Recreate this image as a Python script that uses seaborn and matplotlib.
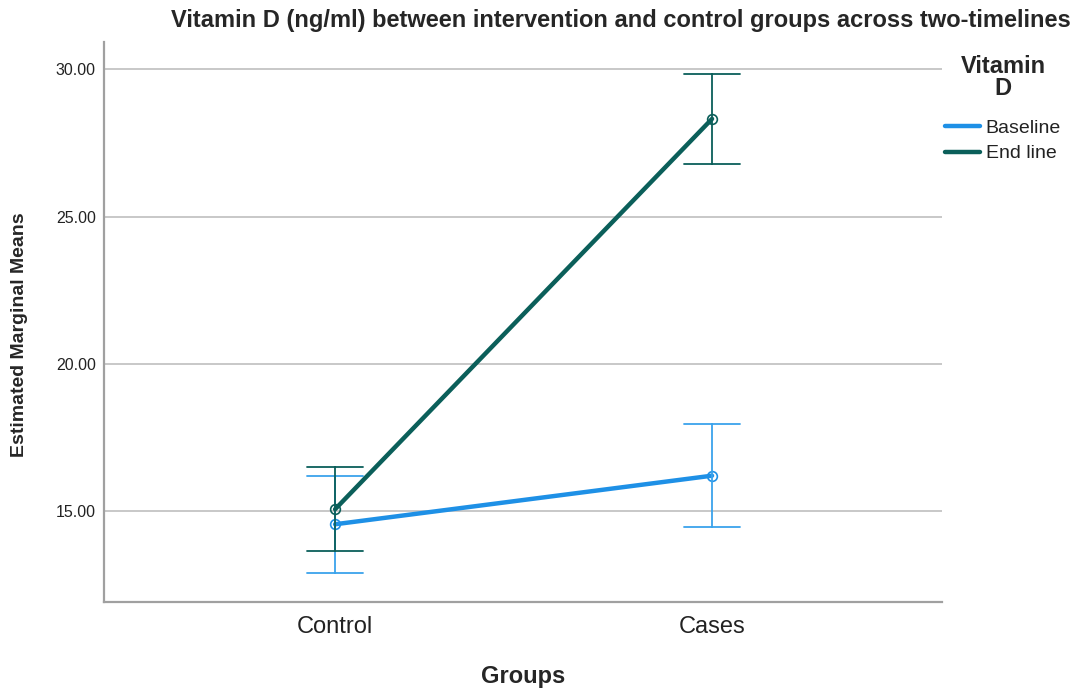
import numpy as np
import pandas as pd
import matplotlib
matplotlib.use('Agg')
import matplotlib.pyplot as plt
import seaborn as sns
from matplotlib.lines import Line2D

## dados (média e limites do IC 95%)
grupos = ['Control', 'Cases']
tempos = ['Baseline', 'End line']
media_baseline = [14.55, 16.20]
inferior_baseline = [12.88, 14.46]
superior_baseline = [16.20, 17.96]
media_endline = [15.06, 28.32]
inferior_endline = [13.64, 26.79]
superior_endline = [16.49, 29.84]

cores = {'Baseline': '#1E90E6', 'End line': '#0B5F5A'}

## monta um data frame longo: cada célula tem (inferior, média, superior)
## assim a mediana dá a média e o intervalo 100% dá os limites
linhas = []
for tempo, med, inf, sup in [('Baseline', media_baseline, inferior_baseline, superior_baseline),
                             ('End line', media_endline, inferior_endline, superior_endline)]:
    for i, g in enumerate(grupos):
        for v in (inf[i], med[i], sup[i]):
            linhas.append({'Groups': g, 'Vitamin D': tempo, 'valor': v})
data_frame = pd.DataFrame(linhas)

sns.set_style('white')
plt.rcParams['font.family'] = ['Liberation Sans', 'DejaVu Sans']

fig = plt.figure(figsize=(10.84, 6.91), dpi=100)
ax = fig.add_axes([104/1084, 1 - 601.7/691, (942-104)/1084, (601.7-41.7)/691])

ax.yaxis.grid(True, color='#C4C4C4', linewidth=1.3)
ax.set_axisbelow(True)

sns.pointplot(data=data_frame, x='Groups', y='valor', hue='Vitamin D',
              order=grupos, hue_order=tempos, palette=cores,
              estimator='median', errorbar=('pi', 100),
              capsize=0.15, err_kws={'linewidth': 1.3},
              markers='o', markersize=7, markerfacecolor='none',
              markeredgewidth=1.2, linewidth=3.2, dodge=False, ax=ax)

## barras de erro do baseline um pouco mais claras
for ln in ax.lines:
    if matplotlib.colors.to_hex(ln.get_color()) == cores['Baseline'].lower() and ln.get_marker() in (None, 'None', ''):
        ln.set_color('#3AA3EC')

ax.set_xlim(-0.613, 1.61)
ax.set_ylim(11.92, 30.94)
ax.set_yticks([15, 20, 25, 30])
ax.set_yticklabels([f'{v:.2f}' for v in [15, 20, 25, 30]], fontsize=11.5, color='#222222')
ax.tick_params(axis='x', labelsize=17, colors='#222222', length=0, pad=10)
ax.tick_params(axis='y', length=0, pad=6)

for lado in ['top', 'right']:
    ax.spines[lado].set_visible(False)
for lado in ['left', 'bottom']:
    ax.spines[lado].set_color('#A0A0A0')
    ax.spines[lado].set_linewidth(1.6)

ax.set_xlabel('Groups', fontsize=17, fontweight='bold', labelpad=20)
ax.set_ylabel('Estimated Marginal Means', fontsize=14, fontweight='bold')
ax.yaxis.set_label_coords(-0.0907, (601.7 - 335) / 560)

fig.text(621/1084, 1 - 20/691, 'Vitamin D (ng/ml) between intervention and control groups across two-timelines',
         ha='center', va='center', fontsize=17, fontweight='bold')

## legenda: título separado e entradas só com linhas
ax.get_legend().remove()
fig.text(1003/1084, 1 - 77.5/691, 'Vitamin\nD', ha='center', va='center',
         fontsize=17, fontweight='bold', linespacing=0.98)
alcas = [Line2D([0], [0], color=cores[t], linewidth=3.2) for t in tempos]
leg = fig.legend(alcas, tempos, loc='upper left',
                 bbox_to_anchor=(945/1084, 1 - 119/691), frameon=False,
                 borderaxespad=0, borderpad=0,
                 fontsize=14, handlelength=1.8, handletextpad=0.3,
                 labelspacing=0.42)
for t in leg.get_texts():
    t.set_color('#222222')

fig.savefig('out.png', dpi=100)
